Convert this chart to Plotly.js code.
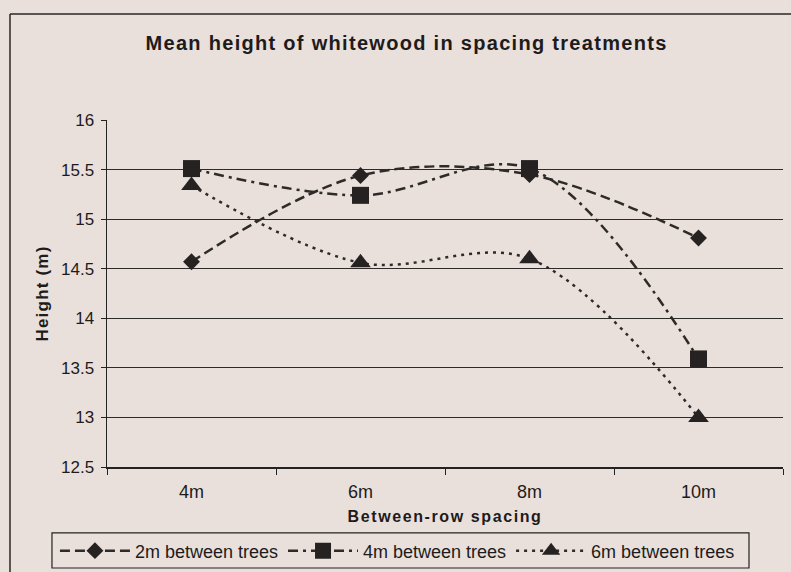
<!DOCTYPE html>
<html>
<head>
<meta charset="utf-8">
<script src="https://cdn.plot.ly/plotly-3.0.1.min.js"></script>
<style>
html,body{margin:0;padding:0;background:#e9e0dc;}
#chart{width:791px;height:572px;}
#chart .gtitle{letter-spacing:1.3px;}
#chart .xtitle{letter-spacing:1.6px;}
#chart .ytitle{letter-spacing:1.2px;}
</style>
</head>
<body>
<div id="chart"></div>
<script>
const categories = ["4m", "6m", "8m", "10m"];
const series2m = [14.57, 15.44, 15.45, 14.81];
const series4m = [15.51, 15.24, 15.51, 13.59];
const series6m = [15.34, 14.56, 14.6, 13.0];
const seriesNames = ["2m between trees", "4m between trees", "6m between trees"];
const yTicks = [12.5, 13, 13.5, 14, 14.5, 15, 15.5, 16];

const dark = "#262221";
function trace(y, name, dash, symbol, size) {
  return {
    x: categories, y: y, name: name, type: "scatter", mode: "lines+markers",
    line: {color: "#2e2a28", width: 2.5, dash: dash, shape: "spline", smoothing: 1},
    marker: {symbol: symbol, size: size, color: dark}
  };
}
const data = [
  trace(series2m, seriesNames[0], "10px,5px", "diamond", 13),
  trace(series4m, seriesNames[1], "10px,5px,3px,5px", "square", 17),
  trace(series6m, seriesNames[2], "3px,5px", "triangle-up", 18)
];
const font = {family: "Liberation Sans, Arial, sans-serif", color: "#1e1b1a"};
const layout = {
  width: 791, height: 572,
  paper_bgcolor: "#e9e0dc", plot_bgcolor: "#e9e0dc",
  margin: {l: 107, r: 8, t: 120, b: 105, autoexpand: false},
  font: Object.assign({size: 16}, font),
  showlegend: true,
  title: {text: "<b>Mean height of whitewood in spacing treatments</b>", font: Object.assign({size: 20}, font),
          x: 0.514, xanchor: "center", y: 0.924, yanchor: "middle"},
  xaxis: {
    type: "category", range: [-0.5, 3.5], tickson: "boundaries",
    ticks: "outside", ticklen: 6, tickcolor: "#222", showgrid: false,
    showline: true, linecolor: "#222", linewidth: 1.5,
    tickfont: Object.assign({size: 18}, font), ticklabelstandoff: 8,
    title: {text: "<b>Between-row spacing</b>", font: Object.assign({size: 16}, font), standoff: 9}
  },
  yaxis: {
    range: [12.5, 16], tickvals: yTicks, ticktext: yTicks.map(String),
    ticks: "outside", ticklen: 5, tickcolor: "#222",
    showgrid: true, gridcolor: "#2e2a28", gridwidth: 1,
    showline: true, linecolor: "#222", linewidth: 1.5, zeroline: false,
    tickfont: Object.assign({size: 17}, font), ticklabelstandoff: 3,
    title: {text: "<b>Height (m)</b>", font: Object.assign({size: 17}, font), standoff: 8}
  },
  legend: {
    orientation: "h", x: -0.077, xanchor: "left", y: -0.242, yanchor: "middle",
    bgcolor: "rgba(0,0,0,0)", borderwidth: 0,
    itemwidth: 70,
    font: Object.assign({size: 18}, font), tracegroupgap: 0
  },
  shapes: [
    {type: "line", xref: "paper", yref: "paper", x0: -0.1435, x1: 1.02, y0: 1.3055, y1: 1.3055, line: {color: "#2a2624", width: 1.5}},
    {type: "line", xref: "paper", yref: "paper", x0: -0.1435, x1: -0.1435, y0: 1.3055, y1: -0.32, line: {color: "#2a2624", width: 1.5}},
    {type: "rect", xref: "paper", yref: "paper", x0: -0.0814, x1: 0.9497, y0: -0.291, y1: -0.190, line: {color: "#222", width: 1.2}}
  ]
};
Plotly.newPlot("chart", data, layout, {displayModeBar: false, staticPlot: true});
</script>
</body>
</html>
